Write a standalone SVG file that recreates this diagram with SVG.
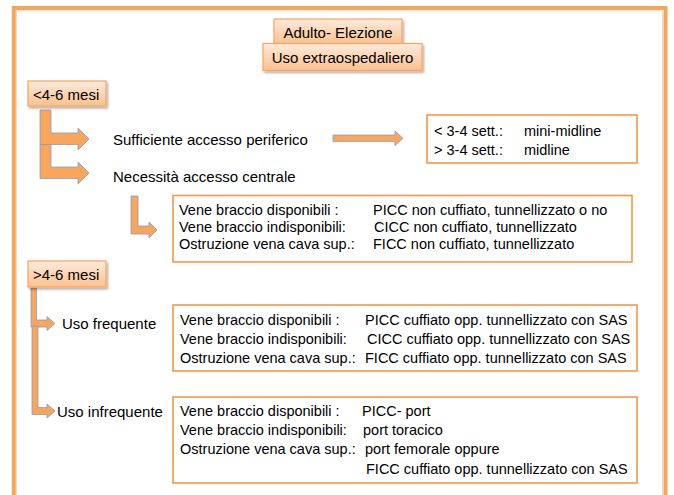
<svg xmlns="http://www.w3.org/2000/svg" width="674" height="495" viewBox="0 0 674 495">
<defs>
<linearGradient id="peach" x1="0" y1="0" x2="0" y2="1">
<stop offset="0" stop-color="#FEEBDC"/>
<stop offset="1" stop-color="#FBC18E"/>
</linearGradient>
<filter id="sh" x="-10%" y="-20%" width="130%" height="160%">
<feDropShadow dx="1.5" dy="2" stdDeviation="1.2" flood-color="#000" flood-opacity="0.3"/>
</filter>
<style>
text{font-family:"Liberation Sans",Arial,sans-serif;font-size:14.5px;fill:#000}
.lbl{font-size:15px}
.hdr{fill:url(#peach);stroke:#F8A55C;stroke-width:1.2}
.box{fill:#fff;stroke:#F79646;stroke-width:1.6}
.arr{fill:#F9A65A;stroke:#7F9FC8;stroke-width:0.8}
</style>
</defs>
<rect x="0" y="0" width="674" height="495" fill="#fff"/>
<g id="frame">
<rect x="16.5" y="10.8" width="646" height="490" fill="none" stroke="#DCDCDC" stroke-width="1"/>
<rect x="13.8" y="8" width="651.7" height="489" fill="none" stroke="#F9A557" stroke-width="4"/>
</g>
<g id="connectors">
<path class="arr" d="M40,110 H51 V133 H78 V128 L89,139 L78,150 V144.5 H40 Z"/>
<path class="arr" d="M40,144.5 H51 V167 H78 V162 L89,173 L78,184 V178.5 H40 Z"/>
<path class="arr" d="M333,135 H395 V131 L403,138.3 L395,145.6 V141.6 H333 Z"/>
<path class="arr" d="M131,196 H138 V226 H149 V222 L157,230 L149,238 V234 H131 Z"/>
<path class="arr" d="M31,288 H36.5 V320 H47 V316.5 L55,323.5 L47,330.5 V327 H31 Z"/>
<path class="arr" d="M32,326 H38 V407.5 H47 V404 L55,411 L47,418 V414.5 H32 Z"/>
</g>
<g id="n_adulto">
<rect class="hdr" x="274" y="19" width="128" height="25" filter="url(#sh)"/>
<text class="lbl" x="338" y="37.5" text-anchor="middle">Adulto- Elezione</text>
</g>
<g id="n_uso">
<rect class="hdr" x="263" y="43.5" width="159" height="27" filter="url(#sh)"/>
<text class="lbl" x="342.5" y="62.5" text-anchor="middle">Uso extraospedaliero</text>
</g>
<g id="n_lt46">
<rect class="hdr" x="28" y="81" width="78" height="25" filter="url(#sh)"/>
<text class="lbl" x="33" y="99.5">&lt;4-6 mesi</text>
</g>
<g id="n_suff">
<text class="lbl" x="113" y="145">Sufficiente accesso periferico</text>
</g>
<g id="n_nec">
<text class="lbl" x="113" y="181.5">Necessità accesso centrale</text>
</g>
<g id="n_midline">
<rect class="box" x="427" y="115" width="210" height="48"/>
<text x="434" y="136">&lt; 3-4 sett.:</text>
<text x="524" y="136">mini-midline</text>
<text x="434" y="155">&gt; 3-4 sett.:</text>
<text x="524" y="155">midline</text>
</g>
<g id="n_noncuff">
<rect class="box" x="173" y="195.5" width="459" height="66.5"/>
<text x="179" y="215">Vene braccio disponibili :</text>
<text x="373" y="215">PICC non cuffiato, tunnellizzato o no</text>
<text x="179" y="232">Vene braccio indisponibili:</text>
<text x="374" y="232">CICC non cuffiato, tunnellizzato</text>
<text x="179" y="249">Ostruzione vena cava sup.:</text>
<text x="373" y="249">FICC non cuffiato, tunnellizzato</text>
</g>
<g id="n_gt46">
<rect class="hdr" x="28" y="261" width="78" height="26" filter="url(#sh)"/>
<text class="lbl" x="33" y="279.5">&gt;4-6 mesi</text>
</g>
<g id="n_freq">
<text class="lbl" x="62" y="328.5">Uso frequente</text>
</g>
<g id="n_infreq">
<text class="lbl" x="57" y="416.5">Uso infrequente</text>
</g>
<g id="n_cuff">
<rect class="box" x="173" y="305" width="464" height="66"/>
<text x="180" y="325">Vene braccio disponibili :</text>
<text x="365" y="325">PICC cuffiato opp. tunnellizzato con SAS</text>
<text x="180" y="344">Vene braccio indisponibili:</text>
<text x="367" y="344">CICC cuffiato opp. tunnellizzato con SAS</text>
<text x="180" y="363">Ostruzione vena cava sup.:</text>
<text x="365" y="363">FICC cuffiato opp. tunnellizzato con SAS</text>
</g>
<g id="n_port">
<rect class="box" x="173" y="397" width="464" height="86"/>
<text x="180" y="416">Vene braccio disponibili :</text>
<text x="362" y="416">PICC- port</text>
<text x="180" y="435">Vene braccio indisponibili:</text>
<text x="363" y="435">port toracico</text>
<text x="180" y="454">Ostruzione vena cava sup.:</text>
<text x="365" y="454">port femorale oppure</text>
<text x="366" y="474">FICC cuffiato opp. tunnellizzato con SAS</text>
</g>
</svg>
